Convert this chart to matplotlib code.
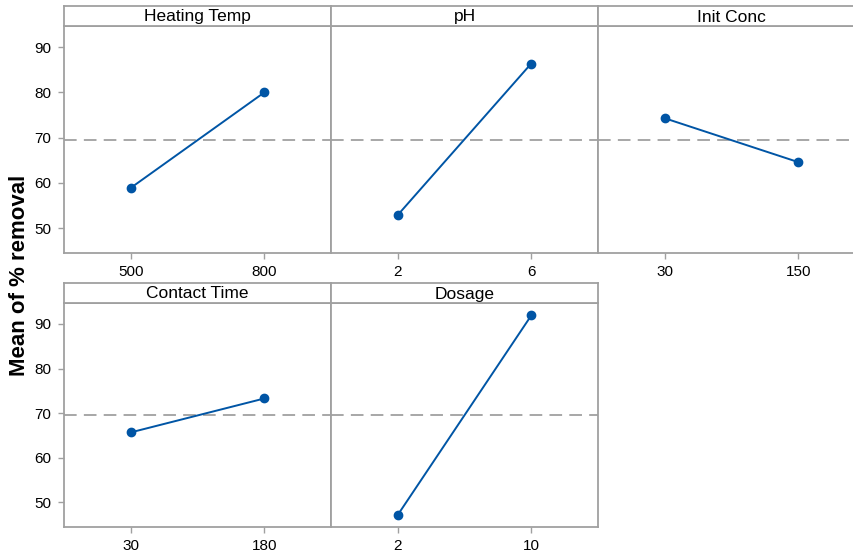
import matplotlib
matplotlib.use("Agg")
import matplotlib.pyplot as plt

plt.rcParams['font.family'] = ['Liberation Sans', 'DejaVu Sans']

# main effects data (mean % removal at low / high level)
factors = ['Heating Temp', 'pH', 'Init Conc', 'Contact Time', 'Dosage']
levels = [['500', '800'], ['2', '6'], ['30', '150'], ['30', '180'], ['2', '10']]
means = [[58.9, 80.0], [52.9, 86.4], [74.3, 64.6], [65.7, 73.3], [47.2, 91.9]]
grand_mean = 69.5
yticks = [50, 60, 70, 80, 90]

W, H = 854, 558
fig = plt.figure(figsize=(W / 100, H / 100), dpi=100)

frame_col = '#a0a0a0'
line_col = '#0055a5'

# panel positions in pixels: left, top of strip, width
pw = 267
rows = [(6, 26, 253), (283, 303, 527)]  # strip top, axes top, axes bottom
slots = [(0, 0), (0, 1), (0, 2), (1, 0), (1, 1)]


def px_rect(x0, y0, x1, y1):
    return [x0 / W, 1 - y1 / H, (x1 - x0) / W, (y1 - y0) / H]


for i, name in enumerate(factors):
    r, c = slots[i]
    st, at, ab = rows[r]
    x0 = 64 + c * pw
    ax = fig.add_axes(px_rect(x0, at, x0 + pw, ab))
    ax.axhline(grand_mean, color=frame_col, lw=1.3, ls=(0, (7, 4)), zorder=1)
    ax.plot([0, 1], means[i], color=line_col, lw=1.4, marker='o',
            markersize=6, zorder=3)
    ax.set_xlim(-0.5, 1.5)
    ax.set_ylim(44.5, 94.7)
    ax.set_xticks([0, 1])
    ax.set_xticklabels(levels[i])
    ax.set_yticks(yticks)
    if c != 0:
        ax.tick_params(axis='y', left=False, labelleft=False)
    ax.tick_params(direction='out', length=4, width=1, color=frame_col,
                   labelsize=11, pad=5)
    for s in ax.spines.values():
        s.set_color(frame_col)
        s.set_linewidth(1.3)

    sx = fig.add_axes(px_rect(x0, st, x0 + pw, at))
    sx.set_xticks([])
    sx.set_yticks([])
    for s in sx.spines.values():
        s.set_color(frame_col)
        s.set_linewidth(1.3)
    sx.text(0.5, 0.45, name, ha='center', va='center', fontsize=12.5,
            transform=sx.transAxes)

fig.text(20 / W, 1 - 275 / H, 'Mean of % removal', rotation=90,
         ha='center', va='center', fontsize=16, fontweight='bold')

fig.savefig('out.png', dpi=100)
